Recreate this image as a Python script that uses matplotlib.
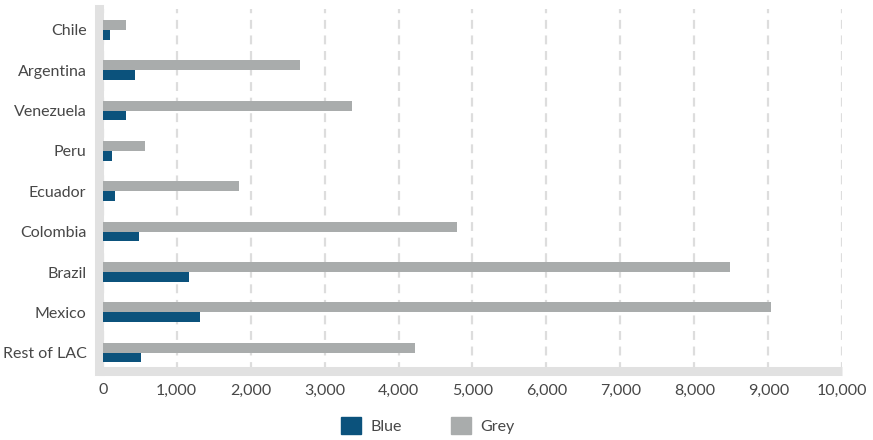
import numpy as np
import matplotlib.pyplot as plt
from matplotlib.patches import Patch

countries = ["Chile", "Argentina", "Venezuela", "Peru", "Ecuador",
             "Colombia", "Brazil", "Mexico", "Rest of LAC"]
grey_vals = [315, 2666, 3369, 572, 1842, 4788, 8477, 9040, 4220]
blue_vals = [99, 436, 315, 126, 166, 490, 1166, 1315, 518]
xticks = [0, 1000, 2000, 3000, 4000, 5000, 6000, 7000, 8000, 9000, 10000]

BLUE = "#0b527c"
GREY = "#a9acac"
BAND = "#e1e1e1"
TXT = "#474747"

plt.rcParams['font.family'] = ['Lato', 'DejaVu Sans']

fig = plt.figure(figsize=(8.73, 4.40), dpi=100)
ax = fig.add_axes([99 / 873, 1 - 371 / 440, (842.3 - 99) / 873, (371 - 9) / 440])

y = np.arange(len(countries))
ax.barh(y - 0.125, grey_vals, height=0.25, color=GREY, zorder=3)
ax.barh(y + 0.12, blue_vals, height=0.24, color=BLUE, zorder=3)

ax.set_xlim(-50, 10000)
ax.set_ylim(8.454, -0.52)
ax.set_yticks(y)
ax.set_yticklabels(countries)
ax.set_xticks(xticks)
ax.set_xticklabels([f"{v:,}" for v in xticks])

ax.xaxis.grid(True, color="#dddddd", linestyle=(0, (4, 3)), linewidth=1.6, zorder=0)
ax.set_axisbelow(True)

for s in ["top", "right"]:
    ax.spines[s].set_visible(False)
ax.spines["left"].set_color(BAND)
ax.spines["left"].set_linewidth(6.5)
ax.spines["bottom"].set_color(BAND)
ax.spines["bottom"].set_linewidth(6.5)
ax.spines["bottom"].set_capstyle("butt")

ax.tick_params(axis="both", length=0, labelsize=11.5, colors=TXT)
ax.tick_params(axis="y", pad=9)
ax.tick_params(axis="x", pad=9)

handles = [Patch(color=BLUE, label="Blue"), Patch(color=GREY, label="Grey")]
leg = fig.legend(handles=handles, loc="center", bbox_to_anchor=(0.49, 0.032), ncol=2,
                 frameon=False, fontsize=11.5, handlelength=1.25, handleheight=1.25,
                 handletextpad=0.6, columnspacing=3.1)
for t in leg.get_texts():
    t.set_color(TXT)

fig.savefig("out.png", dpi=100)
